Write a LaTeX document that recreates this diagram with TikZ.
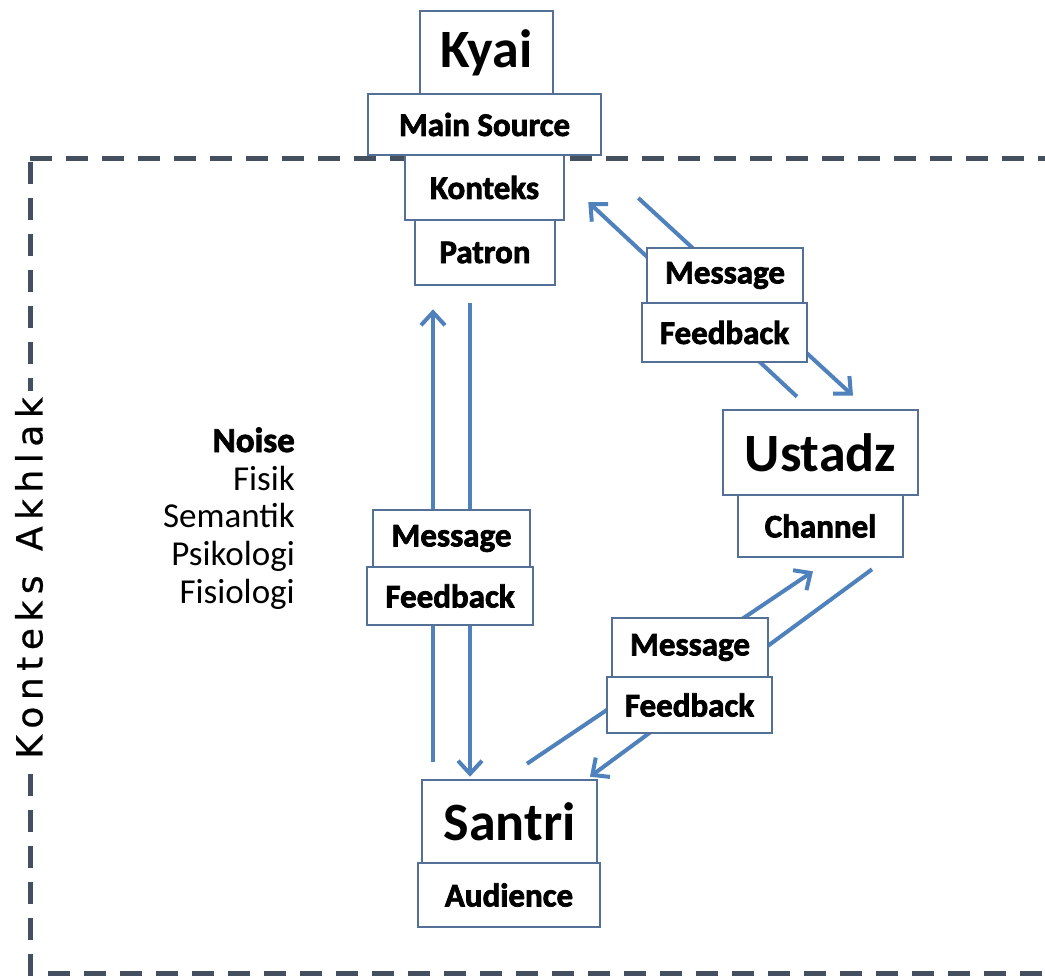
\documentclass[tikz,border=0pt]{standalone}
\usepackage{fontspec}
\setmainfont{Carlito}
\newfontfamily\heavy[FakeBold=2.2]{Carlito}
\newfontfamily\vsans[FakeBold=0.6]{DejaVu Sans}
\usetikzlibrary{arrows.meta,calc}
\definecolor{boxline}{RGB}{84,112,150}
\definecolor{flow}{RGB}{79,129,189}
\definecolor{framegray}{RGB}{68,80,96}
\newcommand\lsp{\kern6.5pt}
\pgfdeclarelayer{framelayer}
\pgfdeclarelayer{flowlayer}
\pgfsetlayers{framelayer,flowlayer,main}
\tikzset{
  box/.style={draw=boxline, line width=2.6pt, fill=white, inner sep=0pt, text=black},
  bigbox/.style={box, font=\fontsize{54}{60}\selectfont\bfseries},
  tagbox/.style={box, font=\heavy\fontsize{33}{38}\selectfont\bfseries},
  flowarrow/.style={draw=flow, line width=4pt, -{Straight Barb[length=13pt,width=24pt]}},
  frameline/.style={draw=framegray, line width=5pt, dash pattern=on 22pt off 14pt},
  noise/.style={anchor=base east, inner sep=0pt, font=\fontsize{35}{40}\selectfont}
}
\begin{document}
\begin{tikzpicture}[x=1pt,y=-1pt]
\useasboundingbox (0,0) rectangle (1045,977);

% Kyai stack
\node[bigbox, minimum width=133, minimum height=84] (kyai) at (486.5,53) {Kyai};
\node[tagbox, minimum width=233, minimum height=61] (mainsrc) at (484.5,124.5) {Main Source};
\node[tagbox, minimum width=140, minimum height=65] (patron) at (485,252.5) {Patron};
\node[tagbox, minimum width=159, minimum height=65] (konteks) at (484.5,187.5) {Konteks};

% Ustadz stack
\node[bigbox, minimum width=195, minimum height=85] (ustadz) at (820.5,452.5) {Ustadz};
\node[tagbox, minimum width=165, minimum height=62] (channel) at (820.5,526) {Channel};

% Santri stack
\node[bigbox, minimum width=175, minimum height=83] (santri) at (509.5,821.5) {Santri};
\node[tagbox, minimum width=182, minimum height=64] (audience) at (509,895) {Audience};

% message / feedback labels on the connectors
\node[tagbox, minimum width=157, minimum height=57] (msgA) at (451.5,538.5) {Message};
\node[tagbox, minimum width=166, minimum height=58] (fbA) at (450,596) {Feedback};
\node[tagbox, minimum width=156, minimum height=55] (msgB) at (725,275.5) {Message};
\node[tagbox, minimum width=165, minimum height=59] (fbB) at (724.5,332.5) {Feedback};
\node[tagbox, minimum width=156, minimum height=59] (msgC) at (690,647.5) {Message};
\node[tagbox, minimum width=165, minimum height=56] (fbC) at (689.5,705) {Feedback};

% noise list
\node[noise, font=\heavy\fontsize{35}{40}\selectfont\bfseries] (noise) at (295,452) {Noise};
\node[noise] (fisik) at (295,490) {Fisik};
\node[noise] (semantik) at (295,527) {Semantik};
\node[noise] (psikologi) at (295,565) {Psikologi};
\node[noise] (fisiologi) at (295,603) {Fisiologi};

% connectors, behind the boxes
\begin{pgfonlayer}{flowlayer}
  % Kyai <-> Santri
  \draw[flowarrow] ($(santri.north)+(-76.5,-17)$) -- ($(patron.south)+(-52,23)$);
  \draw[flowarrow] ($(patron.south)+(-15,17)$) -- ($(santri.north)+(-39.5,-2)$);
  % Kyai <-> Ustadz
  \draw[flowarrow] ($(ustadz.north)+(-23.5,-12)$) -- ($(konteks.east)+(23,14.5)$);
  \draw[flowarrow] ($(konteks.east)+(73,10.5)$) -- ($(ustadz.north)+(32.5,-13)$);
  % Ustadz <-> Santri
  \draw[flowarrow] ($(santri.north)+(17.5,-15)$) -- ($(ustadz.south)+(-7.5,75)$);
  \draw[flowarrow] ($(ustadz.south)+(51.5,73)$) -- ($(santri.north)+(80.5,-2)$);
\end{pgfonlayer}

% dashed context frame with its label
\begin{pgfonlayer}{framelayer}
  \fill[white] (0,0) rectangle (1045,977);
  \draw[frameline] (30,158) -- (1070,158);
  \draw[frameline] (30,162) -- (30,977);
  \draw[frameline] (48,973) -- (1070,973);
  \node[fill=white, rotate=90, inner sep=6pt, font=\vsans\fontsize{36}{40}\selectfont] (akhlak) at (29,578)
    {K\lsp o\lsp n\lsp t\lsp e\lsp k\lsp s\lsp\ \lsp A\lsp k\lsp h\lsp l\lsp a\lsp k};
\end{pgfonlayer}
\end{tikzpicture}
\end{document}
